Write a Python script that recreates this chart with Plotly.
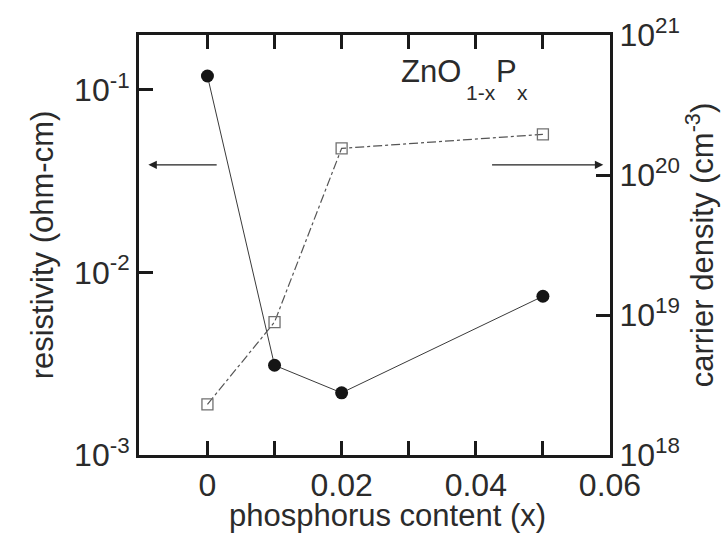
import plotly.graph_objects as go

# Phosphorus content x in ZnO(1-x)P(x) films
content = [0.0, 0.01, 0.02, 0.05]
# Resistivity (ohm-cm), filled circles, left axis
resistivity = [0.119, 3.1e-3, 2.19e-3, 7.4e-3]
# Carrier density (cm^-3), open squares, right axis
carrier = [2.3e18, 8.9e18, 1.55e20, 1.95e20]

x_ticks = [0.0, 0.01, 0.02, 0.03, 0.04, 0.05, 0.06]
x_ticktext = ["0", " ", "0.02", " ", "0.04", " ", "0.06"]
res_ticks = [1e-3, 1e-2, 1e-1]
res_ticktext = ["10<sup>-3</sup>", "10<sup>-2</sup>", "10<sup>-1</sup>"]
car_ticks = [1e18, 1e19, 1e20, 1e21]
car_ticktext = ["10<sup>18</sup>", "10<sup>19</sup>", "10<sup>20</sup>", "10<sup>21</sup>"]

FONT = "Arial, Liberation Sans, Helvetica, sans-serif"
TXT = "#2b2b2b"
AX = "#1a1a1a"
X_RANGE = [-0.0102, 0.06]
RES_RANGE = [-3, -0.7]
CAR_RANGE = [18, 21]

W, H = 726, 535
ML, MR, MT, MB = 139, 116, 35, 80
PW, PH = W - ML - MR, H - MT - MB


def minor_vals(lo, hi):
    return [float(m) * 10.0 ** e for e in range(lo, hi) for m in range(2, 10)]


fig = go.Figure()
fig.add_trace(go.Scatter(
    x=content, y=resistivity, mode="lines+markers", yaxis="y",
    line=dict(color="#3a3a3a", width=1),
    marker=dict(symbol="circle", size=13, color="#151515"),
    showlegend=False))
fig.add_trace(go.Scatter(
    x=content, y=carrier, mode="lines+markers", yaxis="y2",
    line=dict(color="#555555", width=1.2, dash="dashdot"),
    marker=dict(symbol="square-open", size=11, color="#707070", line=dict(width=1.3)),
    showlegend=False))

major_tick = dict(ticks="inside", ticklen=14, tickwidth=3, tickcolor=AX,
                  showgrid=False, zeroline=False)
minor_tick = dict(ticks="inside", ticklen=10, tickwidth=2, tickcolor=AX,
                  showgrid=False, zeroline=False, showline=False,
                  showticklabels=False)

fig.update_layout(
    width=W, height=H,
    margin=dict(l=ML, r=MR, t=MT, b=MB),
    paper_bgcolor="white", plot_bgcolor="white",
    font=dict(family=FONT, color=TXT, size=30),
    xaxis=dict(
        range=X_RANGE, tickvals=x_ticks, ticktext=x_ticktext,
        showline=True, linewidth=3, linecolor=AX, mirror="ticks",
        tickfont=dict(size=32), **major_tick,
    ),
    yaxis=dict(
        type="log", range=RES_RANGE, tickvals=res_ticks, ticktext=res_ticktext,
        showline=True, linewidth=3, linecolor=AX,
        tickfont=dict(size=32),
        title=dict(text="resistivity (ohm-cm)", font=dict(size=31), standoff=12),
        **major_tick,
    ),
    yaxis2=dict(
        type="log", range=CAR_RANGE, overlaying="y", side="right",
        tickvals=car_ticks, ticktext=car_ticktext,
        showline=True, linewidth=3, linecolor=AX,
        tickfont=dict(size=32),
        title=dict(text="carrier density (cm<sup>-3</sup>)", font=dict(size=31), standoff=8),
        **major_tick,
    ),
    # tick-only axes carrying the minor log ticks
    yaxis3=dict(type="log", range=RES_RANGE, overlaying="y", side="left",
                tickvals=minor_vals(-3, 0), **minor_tick),
    yaxis4=dict(type="log", range=CAR_RANGE, overlaying="y", side="right",
                tickvals=minor_vals(18, 21), **minor_tick),
)

# x-axis title
fig.add_annotation(x=(387 - ML) / PW, y=(MT + PH - 515) / PH, xref="paper", yref="paper",
                   xanchor="center", yanchor="middle", showarrow=False,
                   text="phosphorus content (x)", font=dict(size=31, color=TXT))

# Arrows pointing to the axis that each series belongs to
fig.add_annotation(x=-0.0088, y=-1.411, ax=0.0016, ay=-1.411,
                   xref="x", yref="y", axref="x", ayref="y",
                   showarrow=True, arrowhead=2, arrowsize=1.4, arrowwidth=1.2,
                   arrowcolor="#222222", text="")
fig.add_annotation(x=0.0590, y=-1.411, ax=0.0422, ay=-1.411,
                   xref="x", yref="y", axref="x", ayref="y",
                   showarrow=True, arrowhead=2, arrowsize=1.4, arrowwidth=1.2,
                   arrowcolor="#222222", text="")

# Compound label, built piece by piece so the subscripts sit low
label_parts = [
    ("ZnO", 400, 71, 31),
    ("1-x", 465, 93, 21),
    ("P", 495, 71, 31),
    ("x", 516, 93, 21),
]
for txt, px, py, size in label_parts:
    fig.add_annotation(x=(px - ML) / PW, y=(MT + PH - py) / PH,
                       xref="paper", yref="paper", xanchor="left", yanchor="middle",
                       text=txt, showarrow=False, borderpad=0,
                       font=dict(size=size, color=TXT))

fig.write_html("out.html")
